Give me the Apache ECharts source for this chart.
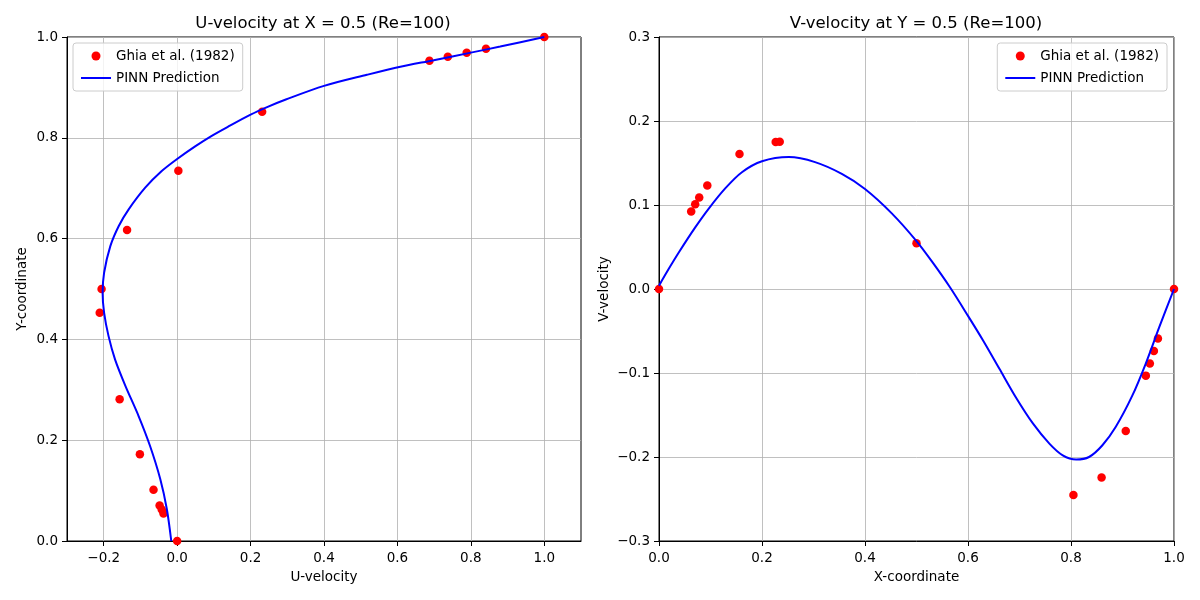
<!DOCTYPE html>
<html>
<head>
<meta charset="utf-8">
<script src="https://cdn.jsdelivr.net/npm/echarts@6/dist/echarts.min.js"></script>
<style>
html,body{margin:0;padding:0;background:#fff;}
#chart{width:1200px;height:600px;}
</style>
</head>
<body>
<div id="chart"></div>
<script>
// Ghia et al. (1982), Re=100 : u along vertical centreline x=0.5
const ghiaY = [1.0000, 0.9766, 0.9688, 0.9609, 0.9531, 0.8516, 0.7344, 0.6172, 0.5000, 0.4531, 0.2813, 0.1719, 0.1016, 0.0703, 0.0625, 0.0547, 0.0000];
const ghiaU = [1.0, 0.84123, 0.78871, 0.73722, 0.68717, 0.23151, 0.00332, -0.13641, -0.20581, -0.21090, -0.15662, -0.10150, -0.06434, -0.04775, -0.04192, -0.03717, 0.0];
// Ghia et al. (1982), Re=100 : v along horizontal centreline y=0.5
const ghiaX = [1.0000, 0.9688, 0.9609, 0.9531, 0.9453, 0.9063, 0.8594, 0.8047, 0.5000, 0.2344, 0.2266, 0.1563, 0.0938, 0.0781, 0.0703, 0.0625, 0.0000];
const ghiaV = [0.0, -0.05906, -0.07391, -0.08864, -0.10313, -0.16914, -0.22445, -0.24533, 0.05454, 0.17527, 0.17507, 0.16077, 0.12317, 0.10890, 0.10091, 0.09233, 0.0];

// PINN prediction
const pinnY = [0, 0.063, 0.123, 0.189, 0.248, 0.308, 0.360, 0.407, 0.453, 0.492, 0.532, 0.585, 0.625, 0.658, 0.701, 0.734, 0.758, 0.783, 0.803, 0.823, 0.846, 0.861, 0.876, 0.903, 0.925, 0.941, 0.954, 0.969, 0.981, 1.0];
const pinnU = [-0.016, -0.028, -0.046, -0.074, -0.105, -0.141, -0.169, -0.187, -0.199, -0.203, -0.199, -0.182, -0.159, -0.132, -0.087, -0.042, 0.0, 0.049, 0.092, 0.141, 0.200, 0.245, 0.296, 0.400, 0.517, 0.608, 0.699, 0.800, 0.880, 1.0];
const pinnX = [0, 0.019, 0.039, 0.070, 0.097, 0.129, 0.161, 0.2, 0.252, 0.303, 0.355, 0.4, 0.452, 0.5, 0.532, 0.565, 0.6, 0.629, 0.661, 0.694, 0.726, 0.758, 0.784, 0.810, 0.835, 0.861, 0.887, 0.919, 0.945, 0.971, 1.0];
const pinnV = [0.004, 0.024, 0.044, 0.073, 0.096, 0.120, 0.139, 0.152, 0.157, 0.151, 0.137, 0.119, 0.090, 0.057, 0.031, 0.002, -0.032, -0.061, -0.095, -0.130, -0.160, -0.184, -0.198, -0.203, -0.200, -0.186, -0.164, -0.127, -0.089, -0.046, 0.0];

const uTicks = [-0.2, 0.0, 0.2, 0.4, 0.6, 0.8, 1.0];

const FONT = 'DejaVu Sans';
const fmt = v => { const s = (Math.abs(v) < 1e-9 ? 0 : v).toFixed(1); return s.replace('-', '\u2212'); };
const LINE_ICON = 'path://M0,0L30,0L30,2L0,2Z';

function axisCommon(extra) {
  return Object.assign({
    type: 'value',
    axisLine: { show: true, onZero: false, lineStyle: { color: '#000', width: 1 } },
    axisTick: { show: true, inside: false, length: 5, lineStyle: { color: '#000', width: 1 } },
    axisLabel: { color: '#000', fontFamily: FONT, fontSize: 13.5, formatter: fmt, margin: 9 },
    splitLine: { show: true, lineStyle: { color: '#b0b0b0', width: 0.8 } },
    nameTextStyle: { color: '#000', fontFamily: FONT, fontSize: 13.5 },
    nameLocation: 'middle'
  }, extra);
}

function makeLegend(pos) {
  return Object.assign({
    orient: 'vertical', top: 43, itemWidth: 30, itemHeight: 9, itemGap: 8,
    padding: [6, 8, 6, 8], borderColor: '#cccccc', borderWidth: 1, borderRadius: 3,
    backgroundColor: 'rgba(255,255,255,0.8)',
    textStyle: { fontFamily: FONT, fontSize: 13.5, color: '#000' },
    data: [
      { name: 'Ghia et al. (1982)', icon: 'circle' },
      { name: 'PINN Prediction', icon: LINE_ICON }
    ]
  }, pos);
}

const chart = echarts.init(document.getElementById('chart'));
const option = {
  animation: false,
  backgroundColor: '#fff',
  title: [
    { text: 'U-velocity at X = 0.5 (Re=100)', left: 318, top: 10, textAlign: 'center',
      textStyle: { fontFamily: FONT, fontSize: 16.5, fontWeight: 'normal', color: '#000' } },
    { text: 'V-velocity at Y = 0.5 (Re=100)', left: 911, top: 10, textAlign: 'center',
      textStyle: { fontFamily: FONT, fontSize: 16.5, fontWeight: 'normal', color: '#000' } }
  ],
  grid: [
    { left: 67, top: 37, width: 514, height: 504, show: true, borderColor: '#000', borderWidth: 1, backgroundColor: 'transparent' },
    { left: 659, top: 37, width: 515, height: 504, show: true, borderColor: '#000', borderWidth: 1, backgroundColor: 'transparent' }
  ],
  legend: [ makeLegend({ left: 73 }), makeLegend({ right: 33 }) ],
  xAxis: [
    axisCommon({ gridIndex: 0, min: -0.3, max: 1.1, splitNumber: 7, name: 'U-velocity', nameGap: 29,
      axisTick: { show: true, inside: false, length: 5, customValues: uTicks, lineStyle: { color: '#000', width: 1 } },
      axisLabel: { color: '#000', fontFamily: FONT, fontSize: 13.5, formatter: fmt, margin: 10, customValues: uTicks } }),
    axisCommon({ gridIndex: 1, min: 0, max: 1, interval: 0.2, name: 'X-coordinate', nameGap: 29,
      axisLabel: { color: '#000', fontFamily: FONT, fontSize: 13.5, formatter: fmt, margin: 10 } })
  ],
  yAxis: [
    axisCommon({ gridIndex: 0, min: 0, max: 1, interval: 0.2, name: 'Y-coordinate', nameGap: 38 }),
    axisCommon({ gridIndex: 1, min: -0.3, max: 0.3, interval: 0.1, name: 'V-velocity', nameGap: 48 })
  ],
  series: [
    { name: 'Ghia et al. (1982)', type: 'scatter', xAxisIndex: 0, yAxisIndex: 0, symbol: 'circle', symbolSize: 8.5,
      itemStyle: { color: '#ff0000', opacity: 1 }, z: 2,
      data: ghiaY.map((y, i) => [ghiaU[i], y]) },
    { name: 'PINN Prediction', type: 'line', xAxisIndex: 0, yAxisIndex: 0, symbol: 'none', smooth: 0.3,
      lineStyle: { color: '#0000ff', width: 2 }, itemStyle: { color: '#0000ff' }, z: 3, clip: true,
      data: pinnY.map((y, i) => [pinnU[i], y]) },
    { name: 'Ghia et al. (1982)', type: 'scatter', xAxisIndex: 1, yAxisIndex: 1, symbol: 'circle', symbolSize: 8.5,
      itemStyle: { color: '#ff0000', opacity: 1 }, z: 2,
      data: ghiaX.map((x, i) => [x, ghiaV[i]]) },
    { name: 'PINN Prediction', type: 'line', xAxisIndex: 1, yAxisIndex: 1, symbol: 'none', smooth: 0.3,
      lineStyle: { color: '#0000ff', width: 2 }, itemStyle: { color: '#0000ff' }, z: 3, clip: true,
      data: pinnX.map((x, i) => [x, pinnV[i]]) }
  ]
};
chart.setOption(option);
</script>
</body>
</html>
